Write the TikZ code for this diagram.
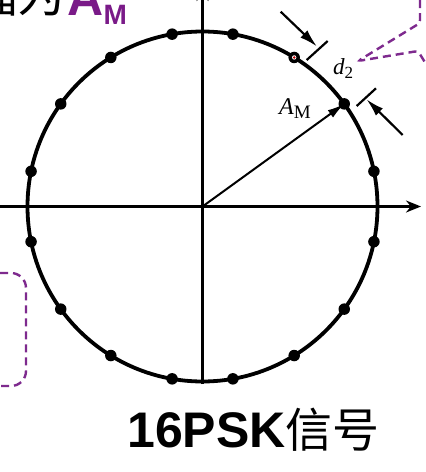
\documentclass[tikz,border=0pt]{standalone}
\usepackage{fontspec}
\setmainfont{Liberation Serif}
\setsansfont{Liberation Sans}
\newfontfamily\cjk{Noto Sans CJK SC}
\usetikzlibrary{arrows.meta,calc}
\definecolor{callpurple}{HTML}{7E2A8E}
\definecolor{titlepurple}{HTML}{7A1A88}
\tikzset{
  axisline/.style={line width=2.2pt},
  circleline/.style={line width=3.8pt},
  dotnode/.style={circle,fill=black,inner sep=0pt,minimum size=11.5pt},
  dimline/.style={line width=2.2pt},
  dimarrow/.style={line width=2.2pt,-{Latex[length=18pt,width=10pt]}},
  callout/.style={callpurple,line width=2.4pt,dash pattern=on 8pt off 5pt},
}
\begin{document}
\begin{tikzpicture}[x=1pt,y=-1pt]
\useasboundingbox (0,0) rectangle (426,472);
\fill[white] (0,0) rectangle (426,472);
\coordinate (O) at (202.5,206.5);
% axes
\coordinate (xl) at (0,206.5);
\coordinate (xr) at (421,206.5);
\coordinate (yt) at (202.5,-14);
\coordinate (yb) at (202.5,384);
\draw[axisline,-{Stealth[length=15pt,width=12pt]}] (xl) -- (xr);
\draw[axisline,-{Stealth[length=15pt,width=12pt]}] (yb) -- (yt);
% circle
\draw[circleline] (O) circle[radius=175];
% dots
\foreach \a [count=\i] in {11.6,35.9,58.4,80,100,121.6,144.1,168.4,191.6,215.9,238.4,260,280,301.6,324.1,348.4}{
  \node[dotnode] (p\i) at ($(O)+(\a:175 and -175)$) {};
}
\fill[white] (p3.center) circle[radius=2.2pt];
\fill[red!75!black] (p3.center) circle[radius=1.4pt];
% A_M arrow
\draw[line width=2pt,-{Latex[length=17pt,width=9pt]}] (O) -- (p2.center);
\node[anchor=base west,inner sep=0pt] (am) at (279,114) {\fontsize{24}{24}\selectfont\itshape A\raisebox{-4pt}{\upshape\fontsize{19}{19}\selectfont M}};
% dimension d2
\coordinate (t1a) at (306.7,60);
\coordinate (t1b) at (327.7,41);
\coordinate (t2a) at (356.7,106);
\coordinate (t2b) at (376,88.3);
\coordinate (a1s) at (280.7,11.7);
\coordinate (a1e) at (317,46.5);
\coordinate (a2s) at (402.7,135);
\coordinate (a2e) at (366.5,99.3);
\draw[dimline] (t1a) -- (t1b);
\draw[dimline] (t2a) -- (t2b);
\draw[dimarrow] (a1s) -- (a1e);
\draw[dimarrow] (a2s) -- (a2e);
\node[anchor=base west,inner sep=0pt] (d2) at (333,74) {\fontsize{23}{23}\selectfont\itshape d\raisebox{-4pt}{\upshape\fontsize{17}{17}\selectfont 2}};
% callouts
\coordinate (c1) at (420,0);
\coordinate (c2) at (420,23);
\coordinate (c3) at (358,61);
\coordinate (c4) at (418,51);
\coordinate (c5) at (426,64);
\draw[callout,rounded corners=3pt] (c1) -- (c2) -- (c3) -- (c4) -- (c5);
\draw[callout,rounded corners=15pt] (0,273) -- (26,273) -- (26,386) -- (0,386);
% title text (clipped at the top edge as in the reference)
\node[anchor=base east,inner sep=0pt,font=\cjk\fontsize{48}{48}\selectfont] (tt) at (66,12) {幅为};
\node[anchor=base west,inner sep=0pt,text=titlepurple,font=\sffamily\bfseries\fontsize{50}{50}\selectfont] (ta) at (67,15) {A};
\node[anchor=base west,inner sep=0pt,text=titlepurple,font=\sffamily\bfseries\fontsize{28}{28}\selectfont] (tm) at (ta.base east) {\raisebox{-9pt}{M}};
% caption
\node[anchor=base west,inner sep=0pt] (cap) at (127,447) {\sffamily\bfseries\fontsize{50}{50}\selectfont 16PSK{\cjk\mdseries\fontsize{47}{47}\selectfont 信号}};
\end{tikzpicture}
\end{document}
